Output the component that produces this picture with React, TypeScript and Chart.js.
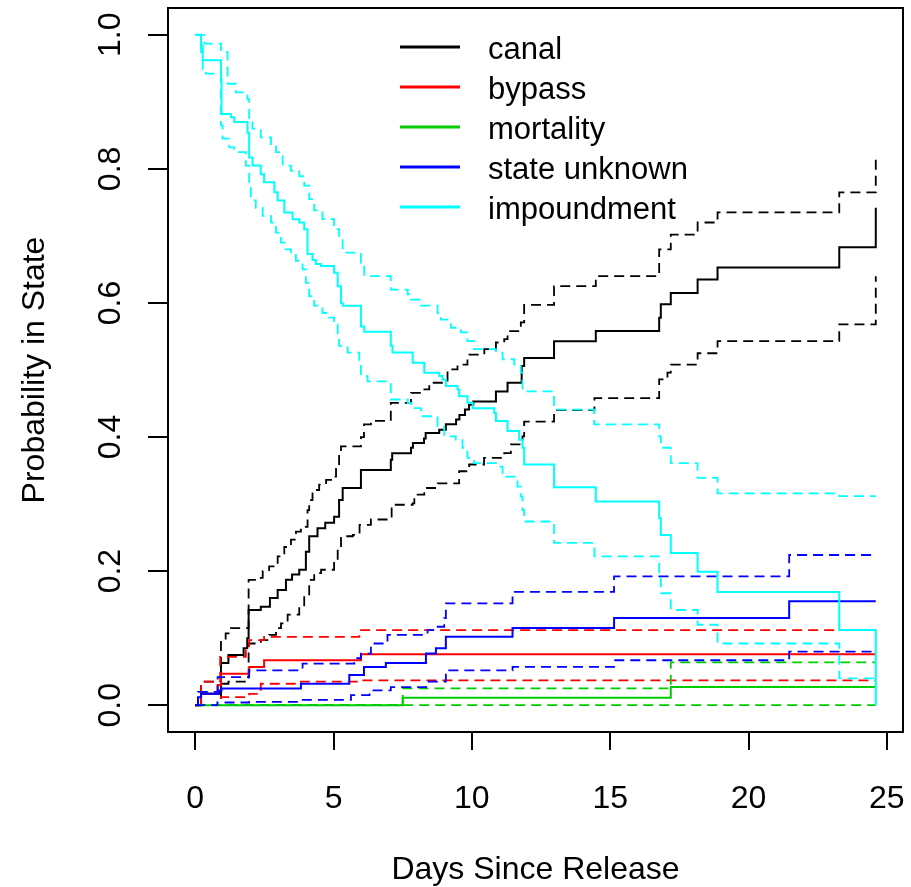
import React, { useEffect, useRef } from "react";
import { Chart, registerables } from "chart.js";

Chart.register(...registerables);

// ---- tick labels / legend ----
const xTickValues = [0, 5, 10, 15, 20, 25];
const yTickValues = [0, 0.2, 0.4, 0.6, 0.8, 1.0];
const legendLabels = ["canal", "bypass", "mortality", "state unknown", "impoundment"];
const stateColors = ["#000000", "#FF0000", "#00CD00", "#0000FF", "#00FFFF"];

// ---- step curves: [day, probability] ----
const canalEst = [[0,0],[0.21,0.017],[0.93,0.063],[1.2,0.075],[1.75,0.085],[1.88,0.1],[1.93,0.142],[2.37,0.147],[2.7,0.16],[2.98,0.172],[3.28,0.187],[3.5,0.195],[3.76,0.202],[4.0,0.229],[4.12,0.252],[4.42,0.264],[4.7,0.272],[5.02,0.281],[5.2,0.306],[5.33,0.324],[5.99,0.351],[7.07,0.366],[7.12,0.376],[7.8,0.384],[7.87,0.391],[8.27,0.398],[8.33,0.406],[8.82,0.411],[9.06,0.419],[9.43,0.426],[9.55,0.433],[9.75,0.441],[9.9,0.448],[10.05,0.453],[10.87,0.468],[11.29,0.481],[11.8,0.506],[11.89,0.518],[12.97,0.543],[14.48,0.558],[16.77,0.578],[16.83,0.598],[17.19,0.615],[18.16,0.635],[18.88,0.653],[23.28,0.683],[24.6,0.742]];
const canalUpper = [[0,0],[0.21,0.035],[0.93,0.097],[1.1,0.107],[1.29,0.115],[1.93,0.187],[2.2,0.19],[2.44,0.2],[2.67,0.207],[2.98,0.222],[3.22,0.236],[3.46,0.247],[3.64,0.259],[3.82,0.266],[4.06,0.291],[4.12,0.306],[4.24,0.321],[4.48,0.329],[4.73,0.336],[4.97,0.341],[5.09,0.356],[5.2,0.374],[5.27,0.386],[5.99,0.4],[6.1,0.419],[6.35,0.424],[7.07,0.451],[7.8,0.466],[8.16,0.471],[8.46,0.481],[9.12,0.501],[9.48,0.508],[9.84,0.523],[10.45,0.531],[10.87,0.541],[11.17,0.546],[11.29,0.558],[11.77,0.571],[11.89,0.597],[12.97,0.625],[14.48,0.64],[16.77,0.68],[17.19,0.702],[18.16,0.72],[18.88,0.735],[23.28,0.765],[24.6,0.815]];
const canalLower = [[0,0],[0.93,0.032],[1.2,0.035],[1.93,0.092],[2.37,0.097],[2.67,0.105],[2.92,0.115],[3.1,0.122],[3.34,0.135],[3.76,0.147],[3.94,0.164],[4.12,0.187],[4.3,0.197],[4.55,0.202],[5.02,0.214],[5.15,0.232],[5.27,0.252],[5.7,0.254],[5.94,0.269],[6.35,0.277],[7.1,0.299],[7.86,0.301],[7.92,0.314],[8.28,0.324],[8.76,0.331],[9.54,0.349],[9.9,0.359],[10.44,0.369],[11.17,0.376],[11.41,0.389],[11.83,0.401],[11.89,0.423],[12.97,0.44],[14.43,0.458],[16.77,0.486],[17.07,0.496],[17.19,0.508],[18.16,0.525],[18.88,0.543],[23.28,0.568],[24.6,0.64]];

const bypassEst = [[0,0],[0.21,0.017],[0.81,0.03],[0.93,0.047],[1.95,0.057],[2.49,0.067],[5.99,0.076],[24.6,0.076]];
const bypassUpper = [[0,0],[0.21,0.035],[0.9,0.072],[1.83,0.085],[1.95,0.097],[2.49,0.102],[5.93,0.112],[24.6,0.112]];
const bypassLower = [[0,0],[0.93,0.012],[1.95,0.017],[2.37,0.032],[3.82,0.035],[5.99,0.037],[24.6,0.037]];

const mortalityEst = [[0,0],[7.5,0.011],[17.19,0.027],[24.6,0.027]];
const mortalityUpper = [[0,0],[7.5,0.025],[17.19,0.064],[24.6,0.064]];
const mortalityLower = [[0,0],[24.6,0]];

const unknownEst = [[0,0],[0.1,0.012],[0.21,0.017],[0.87,0.022],[0.95,0.025],[3.82,0.032],[5.57,0.045],[6.1,0.057],[6.89,0.063],[8.34,0.077],[8.7,0.085],[9.06,0.102],[11.47,0.115],[15.14,0.13],[21.47,0.155],[24.6,0.155]];
const unknownUpper = [[0,0],[0.1,0.02],[0.81,0.042],[1.95,0.052],[3.88,0.062],[5.75,0.07],[5.99,0.077],[6.35,0.092],[6.95,0.105],[8.4,0.112],[8.64,0.117],[9.0,0.13],[9.06,0.152],[11.47,0.169],[15.14,0.192],[21.47,0.224],[24.6,0.224]];
const unknownLower = [[0,0],[0.8,0.004],[1.95,0.005],[3.82,0.008],[5.63,0.015],[6.3,0.022],[7.07,0.027],[8.34,0.035],[9.06,0.052],[11.47,0.057],[15.14,0.067],[21.47,0.08],[24.6,0.08]];

const impoundEst = [[0,1],[0.21,0.984],[0.27,0.962],[0.93,0.934],[0.95,0.882],[1.29,0.877],[1.41,0.87],[1.89,0.854],[1.95,0.817],[2.07,0.805],[2.37,0.792],[2.49,0.78],[2.86,0.765],[2.98,0.753],[3.22,0.735],[3.52,0.725],[3.76,0.72],[3.94,0.71],[4.06,0.673],[4.24,0.664],[4.36,0.658],[4.54,0.655],[5.02,0.645],[5.15,0.625],[5.27,0.6],[5.33,0.596],[5.99,0.565],[6.11,0.557],[7.07,0.536],[7.13,0.526],[7.86,0.511],[8.28,0.496],[8.82,0.491],[8.94,0.486],[9.06,0.476],[9.48,0.471],[9.54,0.461],[9.84,0.451],[10.03,0.443],[10.81,0.436],[10.87,0.424],[11.29,0.409],[11.71,0.396],[11.83,0.384],[11.89,0.359],[12.97,0.325],[14.48,0.304],[16.77,0.279],[16.83,0.254],[17.19,0.227],[18.16,0.199],[18.88,0.169],[23.28,0.112],[24.6,0]];
const impoundUpper = [[0,1],[0.33,0.987],[0.93,0.974],[1.17,0.927],[1.47,0.914],[1.89,0.904],[1.95,0.874],[2.07,0.86],[2.37,0.847],[2.74,0.834],[2.92,0.825],[3.16,0.805],[3.46,0.797],[3.76,0.789],[3.94,0.775],[4.12,0.755],[4.3,0.738],[4.6,0.725],[5.02,0.71],[5.2,0.7],[5.33,0.675],[5.99,0.66],[6.11,0.64],[7.07,0.62],[7.68,0.613],[7.8,0.605],[8.16,0.596],[8.76,0.585],[8.88,0.575],[9.24,0.563],[9.6,0.556],[9.84,0.543],[10.08,0.531],[10.87,0.526],[11.11,0.516],[11.53,0.508],[11.77,0.496],[11.83,0.468],[12.97,0.441],[14.42,0.419],[16.77,0.401],[16.83,0.384],[17.19,0.361],[18.16,0.339],[18.88,0.316],[23.28,0.312],[24.6,0.312]];
const impoundLower = [[0,1],[0.21,0.974],[0.27,0.949],[0.39,0.942],[0.93,0.865],[0.99,0.845],[1.23,0.832],[1.41,0.825],[1.83,0.805],[1.95,0.775],[2.01,0.753],[2.19,0.742],[2.44,0.73],[2.74,0.72],[2.92,0.705],[3.1,0.69],[3.22,0.68],[3.46,0.675],[3.64,0.663],[3.88,0.65],[4.0,0.63],[4.12,0.61],[4.3,0.596],[4.6,0.585],[4.84,0.578],[5.02,0.568],[5.15,0.553],[5.2,0.536],[5.51,0.526],[5.93,0.511],[5.99,0.491],[6.23,0.483],[7.07,0.456],[7.68,0.451],[7.8,0.443],[8.16,0.431],[8.76,0.416],[9.0,0.401],[9.42,0.396],[9.66,0.384],[9.84,0.369],[10.08,0.361],[10.87,0.356],[11.11,0.346],[11.23,0.341],[11.65,0.326],[11.77,0.311],[11.83,0.291],[11.89,0.274],[12.97,0.242],[14.43,0.222],[16.77,0.192],[16.83,0.167],[17.19,0.142],[18.16,0.12],[18.88,0.092],[23.28,0.04],[24.6,0.04]];

const FONT = "'Liberation Sans', Arial, sans-serif";

const legendPlugin = {
  id: "rLegend",
  afterDraw(chart: any) {
    const ctx = chart.ctx;
    const lineX0 = 400, lineX1 = 460, textX = 488, top = 47, gap = 40;
    ctx.save();
    ctx.font = `31px ${FONT}`;
    ctx.textBaseline = "middle";
    ctx.textAlign = "left";
    legendLabels.forEach((label, i) => {
      const y = top + i * gap;
      ctx.strokeStyle = stateColors[i];
      ctx.lineWidth = 3;
      ctx.setLineDash([]);
      ctx.beginPath();
      ctx.moveTo(lineX0, y);
      ctx.lineTo(lineX1, y);
      ctx.stroke();
      ctx.fillStyle = "#000";
      ctx.fillText(label, textX, y + 3);
    });
    ctx.restore();
  },
};

const boxPlugin = {
  id: "rBox",
  beforeDatasetsDraw(chart: any) {
    const { ctx, chartArea } = chart;
    ctx.save();
    ctx.strokeStyle = "#000";
    ctx.lineWidth = 2;
    ctx.strokeRect(chartArea.left, chartArea.top, chartArea.right - chartArea.left, chartArea.bottom - chartArea.top);
    ctx.restore();
  },
};

function toPoints(arr: number[][]) {
  return arr.map(([x, y]) => ({ x, y }));
}

export default function App() {
  const ref = useRef<HTMLCanvasElement | null>(null);

  useEffect(() => {
    if (!ref.current) return;
    const groups = [
      { est: canalEst, lo: canalLower, hi: canalUpper, color: stateColors[0], order: 4 },
      { est: bypassEst, lo: bypassLower, hi: bypassUpper, color: stateColors[1], order: 3 },
      { est: mortalityEst, lo: mortalityLower, hi: mortalityUpper, color: stateColors[2], order: 2 },
      { est: unknownEst, lo: unknownLower, hi: unknownUpper, color: stateColors[3], order: 1 },
      { est: impoundEst, lo: impoundLower, hi: impoundUpper, color: stateColors[4], order: 0 },
    ];
    const datasets: any[] = [];
    groups.forEach((g, gi) => {
      const base = {
        borderColor: g.color,
        backgroundColor: g.color,
        pointRadius: 0,
        pointHoverRadius: 0,
        stepped: true,
        fill: false,
        borderCapStyle: "butt",
        borderJoinStyle: "miter",
        order: g.order,
      };
      datasets.push({ ...base, label: legendLabels[gi], data: toPoints(g.est), borderWidth: 2 });
      datasets.push({ ...base, label: legendLabels[gi] + " upper", data: toPoints(g.hi), borderWidth: 1.8, borderDash: [10, 6] });
      datasets.push({ ...base, label: legendLabels[gi] + " lower", data: toPoints(g.lo), borderWidth: 1.8, borderDash: [10, 6] });
    });

    Chart.defaults.font.family = FONT;
    const chart = new Chart(ref.current, {
      type: "line",
      data: { datasets },
      plugins: [boxPlugin, legendPlugin],
      options: {
        animation: false,
        responsive: false,
        devicePixelRatio: 1,
        events: [],
        layout: { padding: { top: 8, right: 8, left: 0, bottom: 0 } },
        plugins: { legend: { display: false }, tooltip: { enabled: false }, title: { display: false } },
        scales: {
          x: {
            type: "linear",
            min: -0.984,
            max: 25.584,
            afterBuildTicks: (s: any) => { s.ticks = xTickValues.map((v) => ({ value: v })); },
            afterFit: (s: any) => { s.height = 155; s.paddingLeft = 0; s.paddingRight = 0; },
            ticks: {
              autoSkip: false,
              maxRotation: 0,
              minRotation: 0,
              padding: 30,
              color: "#000",
              font: { size: 32, family: FONT },
              callback: (v: any) => String(v),
            },
            grid: { drawOnChartArea: false, drawTicks: true, tickLength: 18, color: "#000", lineWidth: 2 },
            border: { display: false },
            title: { display: true, text: "Days Since Release", color: "#000", font: { size: 32, family: FONT }, padding: { top: 0, bottom: -2 } },
          },
          y: {
            type: "linear",
            min: -0.04,
            max: 1.04,
            afterBuildTicks: (s: any) => { s.ticks = yTickValues.map((v) => ({ value: v })); },
            afterFit: (s: any) => { s.width = 168; s.paddingTop = 0; s.paddingBottom = 0; },
            ticks: {
              autoSkip: false,
              minRotation: 90,
              maxRotation: 90,
              crossAlign: "center",
              padding: 15,
              color: "#000",
              font: { size: 32, family: FONT },
              callback: (v: any) => Number(v).toFixed(1),
            },
            grid: { drawOnChartArea: false, drawTicks: true, tickLength: 20, color: "#000", lineWidth: 2 },
            border: { display: false },
            title: { display: true, text: "Probability in State", color: "#000", font: { size: 32, family: FONT }, padding: { top: 16, bottom: 0 } },
          },
        },
      } as any,
    });
    return () => chart.destroy();
  }, []);

  return (
    <div style={{ position: "absolute", left: 0, top: 0, width: 911, height: 887, background: "#fff" }}>
      <canvas ref={ref} width={911} height={887} style={{ display: "block" }} />
    </div>
  );
}
